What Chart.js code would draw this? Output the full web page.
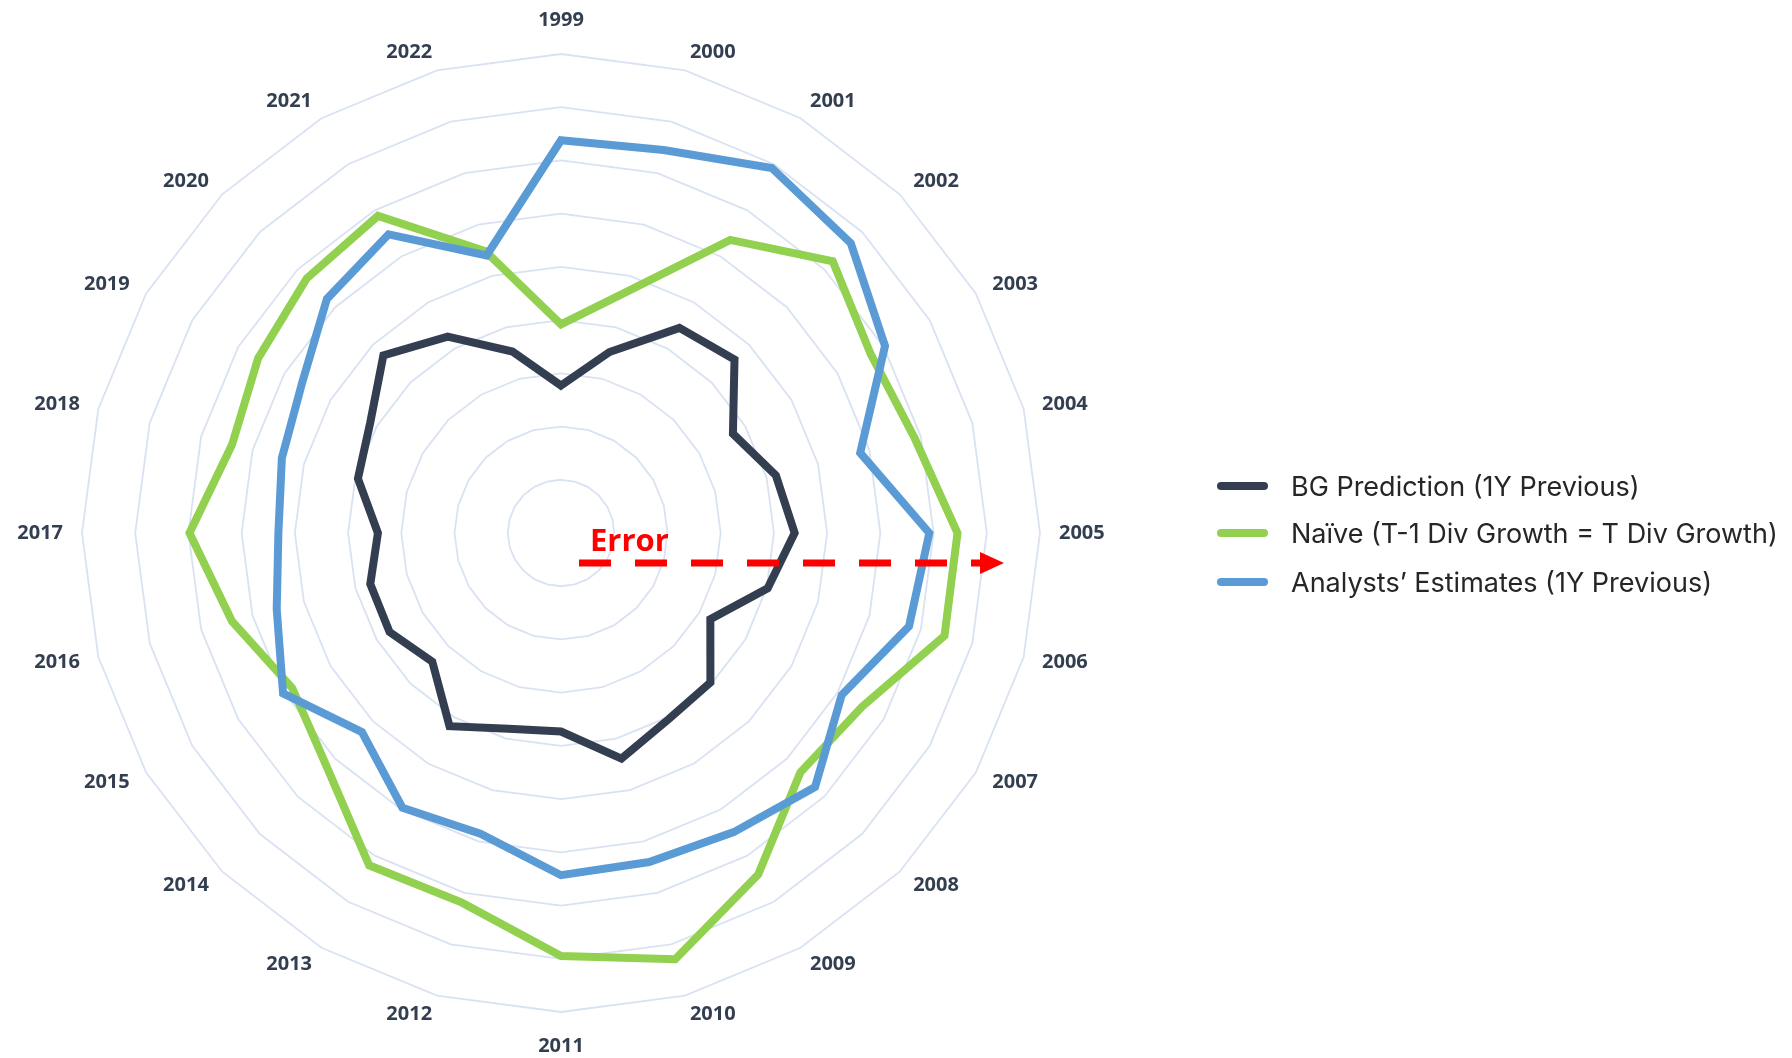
<!DOCTYPE html>
<html>
<head>
<meta charset="utf-8">
<script src="https://cdn.jsdelivr.net/npm/chart.js@4.4.1/dist/chart.umd.min.js"></script>
<style>
  html, body { margin:0; padding:0; background:#fff; }
  body { width:1792px; height:1058px; position:relative; overflow:hidden; }
  #radar-wrap { position:absolute; left:0; top:0; width:1792px; height:1058px; }
  .legend { position:absolute; left:1217px; top:0; font-family:Inter, "Open Sans", sans-serif; font-size:27px; color:#262626; }
  .legend .item { position:absolute; left:0; white-space:nowrap; display:flex; align-items:center; height:40px; margin-top:-20px; }
  .legend .swatch { width:51px; height:8px; border-radius:4px; margin-right:23px; }
</style>
</head>
<body>
<div id="radar-wrap"><canvas id="radar"></canvas></div>
<div class="legend" id="legend"></div>
<script>
const years = ["1999","2000","2001","2002","2003","2004","2005","2006","2007","2008","2009","2010",
  "2011","2012","2013","2014","2015","2016","2017","2018","2019","2020","2021","2022"];

// error values (one ring = 1)
const bgPrediction = [2.77,3.52,4.45,4.61,3.73,4.18,4.39,4.02,3.24,3.97,4.04,4.39,
  3.73,3.81,4.19,3.42,3.72,3.71,3.44,3.95,4.14,4.72,4.26,3.53];
const naive = [3.92,4.68,6.36,7.22,6.72,6.88,7.45,7.46,6.53,6.36,7.41,8.29,
  7.95,7.19,7.21,6.22,5.83,6.40,6.98,6.40,6.57,6.76,6.88,5.48];
const analysts = [7.38,7.45,7.92,7.70,7.03,5.82,6.92,6.77,6.09,6.75,6.49,6.40,
  6.43,5.85,5.96,5.29,6.03,5.53,5.31,5.43,5.62,6.22,6.48,5.40];

const seriesNames = ["BG Prediction (1Y Previous)", "Naïve (T-1 Div Growth = T Div Growth)", "Analysts’ Estimates (1Y Previous)"];
const seriesColors = ["#333f50", "#92d050", "#5b9bd5"];
const legendY = [486, 533, 582];

// year labels placed Excel-style: nearest edge of the label sits on a fixed radius
const yearLabels = {
  id: "yearLabels",
  afterDraw(chart) {
    const s = chart.scales.r;
    const ctx = chart.ctx;
    const h = 24;
    ctx.save();
    ctx.font = "bold 20px 'Open Sans'";
    ctx.fillStyle = "#333f50";
    ctx.textBaseline = "middle";
    s.getLabels().forEach((lbl, i) => {
      const deg = i * 360 / years.length;
      const vertical = deg === 0 || deg === 180;
      const p = s.getPointPosition(i, s.drawingArea + (vertical ? 22 : 19));
      let y = p.y;
      if (deg === 0) { ctx.textAlign = "center"; y -= h / 2; }
      else if (deg === 180) { ctx.textAlign = "center"; y += h / 2; }
      else ctx.textAlign = deg < 180 ? "left" : "right";
      ctx.fillText(lbl, p.x, y);
    });
    ctx.restore();
  }
};

// red dashed "Error" arrow drawn over the radar
const errorArrow = {
  id: "errorArrow",
  afterDatasetsDraw(chart) {
    const s = chart.scales.r;
    const ctx = chart.ctx;
    const cx = s.xCenter, cy = s.yCenter;
    const y = cy + 30;
    ctx.save();
    ctx.strokeStyle = "#ff0000";
    ctx.fillStyle = "#ff0000";
    ctx.lineWidth = 7;
    ctx.setLineDash([32, 24]);
    ctx.beginPath();
    ctx.moveTo(cx + 18, y);
    ctx.lineTo(cx + 420, y);
    ctx.stroke();
    ctx.setLineDash([]);
    ctx.beginPath();
    ctx.moveTo(cx + 419, y - 11);
    ctx.lineTo(cx + 443, y);
    ctx.lineTo(cx + 419, y + 11);
    ctx.closePath();
    ctx.fill();
    ctx.font = "bold 31px 'Open Sans'";
    ctx.textBaseline = "alphabetic";
    ctx.fillText("Error", cx + 29, cy + 18);
    ctx.restore();
  }
};

function renderLegend() {
  const wrap = document.getElementById("legend");
  seriesNames.forEach((name, i) => {
    const item = document.createElement("div");
    item.className = "item";
    item.style.top = legendY[i] + "px";
    item.innerHTML = `<span class="swatch" style="background:${seriesColors[i]}"></span><span>${name}</span>`;
    wrap.appendChild(item);
  });
}

function renderChart() {
  const values = [bgPrediction, naive, analysts];
  new Chart(document.getElementById("radar"), {
    type: "radar",
    data: {
      labels: years,
      datasets: values.map((v, i) => ({
        label: seriesNames[i],
        data: v,
        borderColor: seriesColors[i],
        backgroundColor: seriesColors[i],
        borderWidth: 8,
        pointRadius: 0,
        pointHoverRadius: 0,
        fill: false,
        tension: 0,
        order: 3 - i,
      })),
    },
    options: {
      responsive: true,
      maintainAspectRatio: false,
      animation: false,
      events: [],
      // radius 479 centred at (561, 533)
      layout: { padding: { left: 82, right: 752, top: 54, bottom: 46 } },
      plugins: { legend: { display: false }, tooltip: { enabled: false } },
      scales: {
        r: {
          min: 0, max: 9,
          ticks: { display: false, stepSize: 1 },
          angleLines: { display: false },
          grid: { color: "#d9e2f3", lineWidth: 1.8 },
          pointLabels: { display: false },
        },
      },
    },
    plugins: [errorArrow, yearLabels],
  });
}

renderLegend();
renderChart();
</script>
</body>
</html>
